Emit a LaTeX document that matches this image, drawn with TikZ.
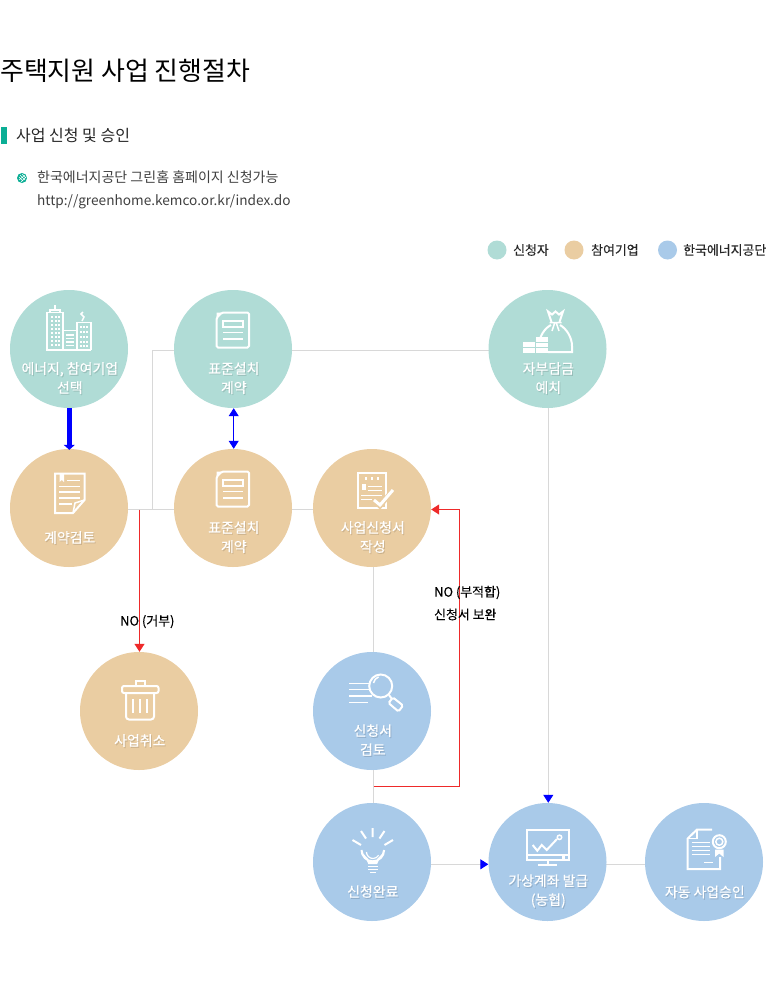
\documentclass[tikz,border=0pt]{standalone}
\usepackage{fontspec}
\setmainfont{Noto Sans CJK KR}
\newfontfamily\cfont[FakeBold=0.35]{Noto Sans CJK KR}
\newfontfamily\nfont[FakeBold=0.2]{Noto Sans CJK KR}
\usetikzlibrary{arrows.meta,backgrounds,calc}
\definecolor{teal1}{HTML}{B0DCD6}
\definecolor{tan1}{HTML}{EACDA2}
\definecolor{blue1}{HTML}{A9CAE9}
\definecolor{grayline}{HTML}{D8D8D8}
\definecolor{redline}{HTML}{EE2A2A}
\definecolor{accent}{HTML}{0BAE95}
\tikzset{
  x=1pt,y=-1pt,
  circ/.style={circle,minimum size=118pt,inner sep=0pt,fill=#1},
  legdot/.style={circle,minimum size=19pt,inner sep=0pt,fill=#1},
  ctext/.style={text=white,font=\cfont\fontsize{13.9}{19}\selectfont,align=center,inner sep=0pt},
  cshadow/.style={text=black,opacity=.1,font=\cfont\fontsize{13.9}{19}\selectfont,align=center,inner sep=0pt},
  legtext/.style={anchor=west,inner sep=0pt,font=\nfont\fontsize{12.9}{14}\selectfont,text=black!85},
  note/.style={anchor=west,inner sep=0pt,font=\nfont\fontsize{12.9}{14}\selectfont,text=black},
  gl/.style={draw=grayline,line width=1pt},
  rl/.style={draw=redline,line width=1pt},
  icon/.style={draw=white,line width=1.5pt,fill=none},
  iconb/.style={draw=white,line width=2pt,fill=none},
  tipB/.style={-{Triangle[blue,width=10pt,length=8pt]}},
  tipR/.style={-{Triangle[redline,width=10pt,length=8pt]}}
}
\newcommand{\clabel}[4]{%
  \node[cshadow] at (#2+1.8,#3+1.2) {#4};
  \node[ctext] (#1) at (#2+.8,#3) {#4};}
\newcommand{\docicon}[2]{%
  \begin{scope}[shift={(#1,#2)}]
    \draw[iconb,rounded corners=1.5pt] (216.5,318)--(222,312.5)--(249,312.5)--(249,347.5)--(216.5,347.5)--cycle;
    \fill[white] (216.5,312.5)--(222,312.5)--(216.5,318)--cycle;
    \draw[icon] (223,321)rectangle(243,327);
    \draw[icon] (223,332.5)--(243,332.5) (223,339)--(243,339);
  \end{scope}}
\begin{document}
\begin{tikzpicture}
\useasboundingbox (0,0) rectangle (767,990);
% header
\node[anchor=west,inner sep=0pt,font=\fontsize{25.9}{30}\selectfont] (title) at (0,70.5) {주택지원 사업 진행절차};
\fill[accent] (1,127) rectangle (7,144);
\node[anchor=west,inner sep=0pt,font=\fontsize{16}{18}\selectfont,text=black!85] (sect) at (16,135.5) {사업 신청 및 승인};
\fill[accent] (22,178) circle (5);
\draw[white,line width=.5pt] (19,177)--(23,181) (20,175)--(25,180) (22,174)--(26,178) (19,180)--(25,175) (21,182)--(26,177);
\node[anchor=west,inner sep=0pt,font=\fontsize{14}{16}\selectfont,text=black!75] (n1) at (37,177.5) {한국에너지공단 그린홈 홈페이지 신청가능};
\node[anchor=west,inner sep=0pt,font=\fontsize{13.65}{16}\selectfont,text=black!75] (n2) at (37,202) {http://greenhome.kemco.or.kr/index.do};
% legend
\node[legdot=teal1] (l1) at (497,250) {};
\node[legdot=tan1] (l2) at (574,250) {};
\node[legdot=blue1] (l3) at (667.5,250) {};
\node[legtext] (lt1) at (513,250) {신청자};
\node[legtext] (lt2) at (591,250) {참여기업};
\node[legtext] (lt3) at (683,250) {한국에너지공단};
% circles
\node[circ=teal1] (c1) at (69,349) {};
\node[circ=teal1] (c2) at (233,349) {};
\node[circ=teal1] (c3) at (547.5,349) {};
\node[circ=tan1] (c4) at (69,508) {};
\node[circ=tan1] (c5) at (233,508) {};
\node[circ=tan1] (c6) at (372,508) {};
\node[circ=tan1] (c7) at (139,711) {};
\node[circ=blue1] (c8) at (372,711) {};
\node[circ=blue1] (c9) at (372,862) {};
\node[circ=blue1] (c10) at (547.5,862) {};
\node[circ=blue1] (c11) at (704,862) {};
% connectors
\coordinate (jg) at (152,509.5);
\coordinate (jr) at (139.5,509.5);
\coordinate (jb) at (373.5,786.5);
\coordinate (jc) at (459.5,786.5);
\begin{scope}[on background layer]
  \draw[gl] ([yshift=-1.4pt]c3.center) -- ([yshift=-1.4pt]c2.center) -- ([yshift=-1.4pt]c2.center -| jg) -- (jg);
  \draw[gl] ([yshift=-1.5pt]c4.center) -- ([yshift=-1.5pt]c6.center);
  \draw[gl] ([xshift=1.5pt]c6.center) -- ([xshift=1.5pt]c9.center);
  \draw[gl] ([yshift=-2.3pt]c10.center) -- ([yshift=-2.3pt]c11.center);
\end{scope}
\draw[gl,tipB] ([xshift=.8pt]c3.south) -- ([xshift=.8pt]c10.north);
\draw[gl,tipB] ([yshift=-2.3pt]c9.east) -- ([yshift=-2.3pt]c10.west);
\draw[rl,tipR] (jr) -- (jr |- c7.north);
\draw[rl,tipR] (jb) -- (jc) -- (jc |- jr) -- ([yshift=-1.5pt]c6.east);
\draw[blue,line width=5pt,-{Triangle[blue,width=11pt,length=5pt]}] ([xshift=.3pt]c1.south) -- ([xshift=.3pt,yshift=-1pt]c4.north);
\draw[blue,line width=1pt,{Triangle[blue,width=10pt,length=8pt]}-{Triangle[blue,width=10pt,length=8pt]}] ([xshift=.7pt]c2.south) -- ([xshift=.7pt]c5.north);
% notes
\node[note] (no1) at (120,621.5) {NO (거부)};
\node[note] (no2) at (434,592.5) {NO (부적합)};
\node[note] (no3) at (434,614.5) {신청서 보완};
% labels
\clabel{t1}{69}{378}{에너지, 참여기업\\선택}
\clabel{t2}{233}{378}{표준설치\\계약}
\clabel{t3}{547.5}{378}{자부담금\\예치}
\clabel{t4}{69}{537.5}{계약검토}
\clabel{t5}{233}{537}{표준설치\\계약}
\clabel{t6}{372}{537}{사업신청서\\작성}
\clabel{t7}{139}{740.5}{사업취소}
\clabel{t8}{372}{740}{신청서\\검토}
\clabel{t9}{372}{891.5}{신청완료}
\clabel{t10}{547.5}{891}{가상계좌 발급\\(농협)}
\clabel{t11}{704}{892}{자동 사업승인}
% icon: buildings
\draw[icon] (47,350)--(47,312.5)--(63,312.5)--(63,350);
\draw[icon] (50,312.5)--(50,310)--(60,310)--(60,312.5) (55,310)--(55,305);
\draw[iconb] (46,350)--(91,350);
\draw[icon] (63,330.5)--(77,330.5) (77,350)--(77,322.5)--(91,322.5)--(91,350);
\draw[icon] (82,321)--(84,317)--(81,314)--(83,312);
\draw[icon] (66,335)--(74,335) (66,338.5)--(74,338.5) (66,342)--(74,342) (66,345.5)--(74,345.5);
\foreach \xa in {52,55.5,59}{\foreach \ya in {317,321,325,329,333,337,341,345}{\fill[white] (\xa-1,\ya-1) rectangle (\xa+1,\ya+1);}}
\foreach \xa in {81,84,87}{\foreach \ya in {327,332,337,342,346}{\fill[white] (\xa-1,\ya-1) rectangle (\xa+1,\ya+1);}}
% icon: standard contract
\docicon{0}{0}
\docicon{0}{159}
% icon: contract review
\draw[iconb] (73,513)--(55,513)--(55,473.5)--(84.5,473.5)--(84.5,500)--cycle;
\draw[icon] (73,513)--(75,503)--(84.5,500);
\fill[white] (59.5,473.5)--(64,473.5)--(64,482)--(61.7,480)--(59.5,482)--cycle;
\draw[icon] (67,480.5)--(80,480.5) (59,486.5)--(80,486.5) (59,492)--(80,492) (59,498)--(80,498) (59,504)--(72,504);
% icon: bag
\draw[iconb] (539,352)--(539,346) .. controls (539,336) and (545,328) .. (551,325) (560,325) .. controls (567,329) and (572,338) .. (572,346) -- (572,352) -- (548,352);
\draw[iconb] (551.5,322) -- (548,311.5) -- (552,314.5) -- (555.5,311.5) -- (559,314.5) -- (563,311.5) -- (559.5,322);
\draw[icon] (549.5,322.5)--(561.5,322.5) (555,322)--(552,331) (556,322)--(559,331);
\fill[white] (522.5,342) rectangle (534.5,353);
\fill[white] (536,337) rectangle (548,353);
\draw[teal1,line width=.8pt] (522.5,347)--(534.5,347) (536,342)--(548,342) (536,347)--(548,347);
% icon: application form
\draw[iconb] (358,472.5) rectangle (385.5,508);
\foreach \xa in {365.7,371.7,377.7}{\fill[white] (\xa-1.2,477) rectangle (\xa+1.2,479.5);}
\fill[white] (361.7,484) rectangle (366,490);
\draw[icon,line width=1pt] (368,486)--(382,486) (368,490)--(382,490) (361,495)--(382,495) (361,499.5)--(372,499.5);
\draw[tan1,line width=5pt] (374,500)--(380,506)--(393,490);
\draw[white,line width=3pt] (374,500)--(380,505)--(393,490);
% icon: trash
\draw[iconb,rounded corners=2pt] (122,686)rectangle(158.5,693);
\draw[iconb] (136,686)--(136,681)--(145,681)--(145,686);
\draw[iconb,rounded corners=3pt] (126,693)--(126,719.5)--(154,719.5)--(154,693);
\draw[iconb] (133,699)--(133,713) (140,699)--(140,713) (147.3,699)--(147.3,713);
% icon: magnifier
\draw[iconb] (380.7,686) circle (11.5);
\draw[icon] (373.5,683) arc (190:250:8);
\draw[iconb] (389,695)--(392,699);
\draw[iconb,rounded corners=1.5pt] (388.5,703)--(393,697.5)--(403,705.5)--(398.5,711.5)--cycle;
\draw[icon] (349.3,683.3)--(369.5,683.3) (349.3,689.3)--(369.5,689.3) (349.3,696)--(372,696) (349.3,702.7)--(368,702.7);
% icon: bulb
\draw[iconb] (369,863) .. controls (368,857) and (361.5,857) .. (361.5,850) arc (180:0:11.3) .. controls (384,857) and (377.5,857) .. (376.5,863) -- cycle;
\draw[icon,line width=1.2pt] (366.5,852) arc (180:30:6.5);
\draw[iconb] (372.7,828)--(372.7,837) (361,831)--(366,838.5) (384.5,831)--(379.5,838.5) (352.5,840)--(361,845) (393,840)--(384.5,845);
\draw[icon,line width=1.2pt] (368,866.5)--(377.5,866.5) (368,869.3)--(377.5,869.3) (370,872.2)--(376,872.2);
% icon: monitor
\draw[iconb] (526.5,829.5) rectangle (569,859.5);
\draw[icon] (526.5,855)--(569,855);
\fill[white] (561.5,855.5) rectangle (565,858.5);
\draw[iconb] (548,860)--(548,864) (538,864.5)--(557,864.5);
\draw[iconb] (532.7,845)--(537.3,850.7)--(541.7,845)--(546.7,850)--(557,839);
\draw[icon] (559.5,837.3) circle (2.2);
% icon: certificate
\draw[iconb] (712,829.5)--(697,829.5)--(687.7,838.5)--(687.7,869)--(720,869)--(720,857);
\draw[icon] (697,829.5)--(697,838.5)--(687.7,838.5);
\fill[blue1] (719.3,841.7) circle (8);
\draw[iconb] (719.3,841.7) circle (6.5);
\draw[icon] (719.3,841.7) circle (3.5);
\fill[white] (715,849.5)--(715,857)--(719.3,853.5)--(723.5,857)--(723.5,849.5)--cycle;
\draw[icon] (691.7,842.7)--(710,842.7) (691.7,846.7)--(710,846.7) (691.7,850.7)--(710,850.7) (691.7,854.7)--(710,854.7) (704,862.3)--(712.7,862.3);
\end{tikzpicture}
\end{document}
